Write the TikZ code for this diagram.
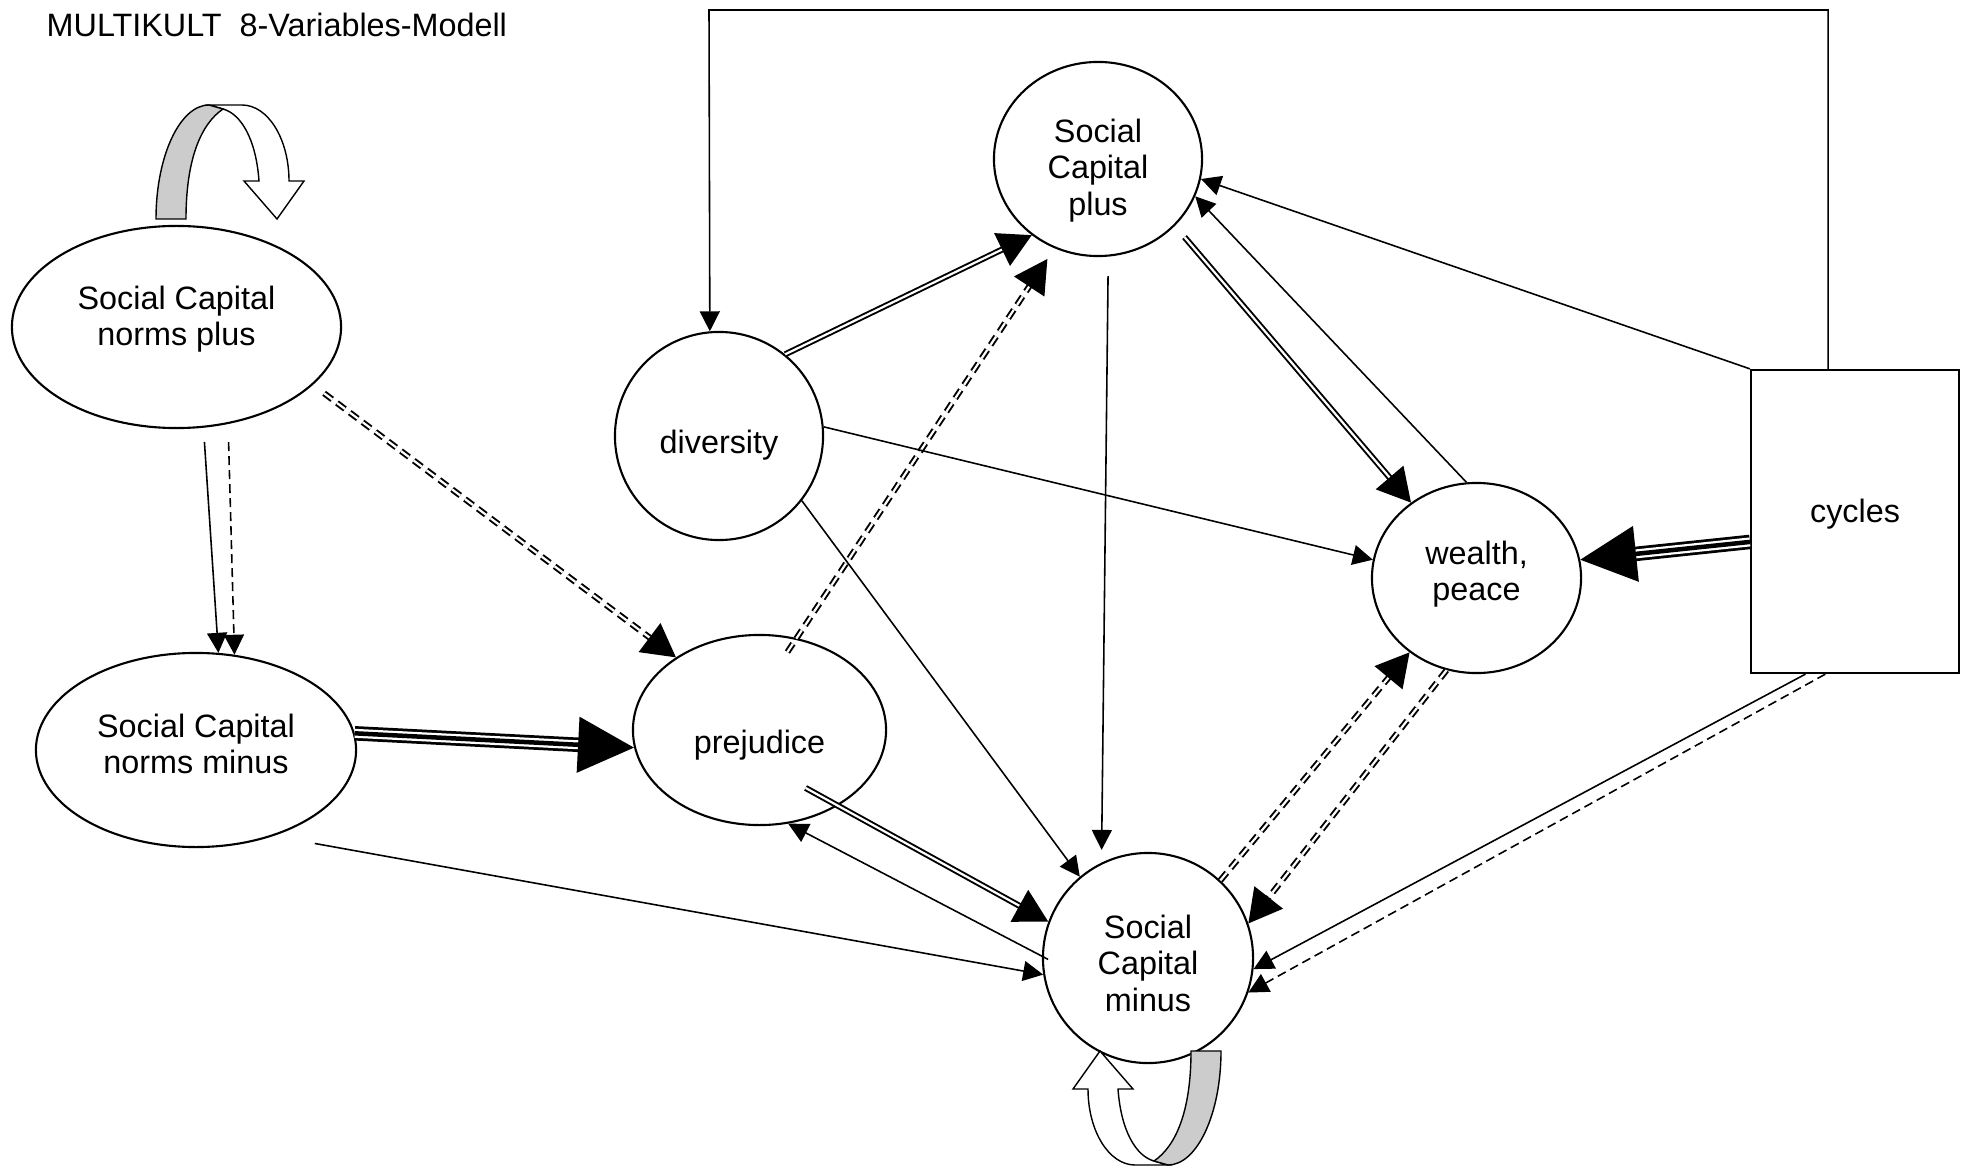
\documentclass[tikz,border=0pt]{standalone}
\usepackage{fontspec}
\setmainfont{Liberation Sans}
\usetikzlibrary{arrows.meta,shapes.geometric}

\begin{document}
\begin{tikzpicture}[x=0.01cm,y=-0.01cm,
    font=\fontsize{9.2}{10.3}\selectfont,
    varnode/.style ={ellipse, draw, line width=0.6pt, inner sep=0pt, align=center},
    cyclebox/.style ={rectangle, draw, line width=0.6pt, inner sep=0pt},
    thinarr/.style ={line width=0.45pt, -{Triangle[length=0.2cm,width=0.2cm]}},
    dashedarr/.style ={thinarr, dash pattern=on 0.09cm off 0.05cm},
    duoarr/.style ={double, double distance=0.022cm, line width=0.55pt, -{Triangle[length=0.33cm,width=0.36cm]}},
    dashedduo/.style ={duoarr, dash pattern=on 0.1cm off 0.06cm},
    trioarr/.style ={line width=0.045cm, -{Triangle[length=0.56cm,width=0.55cm]},
        preaction={draw, line width=0.145cm, -, shorten >=0.5cm},
        preaction={draw=white, line width=0.09cm, -, shorten >=0.5cm}},
    selfloop/.pic ={
        \draw[line width=0.4pt, fill=white] (53,-114) -- (86,-114) .. controls (112,-114) and (133,-80) .. (133,-38)
            -- (148,-38) -- (121,0) -- (88,-38) -- (103,-38) .. controls (100,-80) and (85,-105) .. (67,-110) -- cycle;
        \draw[line width=0.4pt, fill=gray!40] (0,0) .. controls (0,-63) and (24,-114) .. (53,-114) -- (67,-110)
            .. controls (45,-95) and (30,-60) .. (30,0) -- cycle;}]
   \useasboundingbox (0,0) rectangle (1961,1167);
   \node[anchor=base west, inner sep=0pt] (title) at (46,37) {MULTIKULT\ \ 8-Variables-Modell};
   \node[varnode, minimum width=3.29cm, minimum height=2.02cm] (normsplus) at (176.5,327) {Social Capital\\norms plus\rule[-6.2pt]{0pt}{0pt}};
   \node[varnode, minimum width=3.2cm, minimum height=1.94cm] (normsminus) at (196,750) {Social Capital\\norms minus\rule[-3.6pt]{0pt}{0pt}};
   \node[varnode, minimum width=2.53cm, minimum height=1.9cm] (prej) at (759.5,730) {\rule{0pt}{15.3pt}prejudice};
   \node[varnode, minimum width=2.08cm, minimum height=2.08cm] (div) at (719,436) {\rule{0pt}{11.7pt}diversity};
   \node[varnode, minimum width=2.08cm, minimum height=1.94cm] (scplus) at (1098,159) {\rule{0pt}{13.2pt}Social\\Capital\\plus};
   \node[varnode, minimum width=2.09cm, minimum height=1.9cm] (wealth) at (1476.5,578) {wealth,\\peace\rule[-4.1pt]{0pt}{0pt}};
   \node[varnode, minimum width=2.1cm, minimum height=2.1cm] (scminus) at (1148,958) {\rule{0pt}{9.7pt}Social\\Capital\\minus};
   \node[cyclebox, minimum width=2.08cm, minimum height=3.03cm] (cycles) at (1855,521.5) {cycles\rule[-6.2pt]{0pt}{0pt}};
   \coordinate (corner) at (709,10);
   \pic at (156,219) {selfloop};
   \pic[rotate=180] at (1221,1051) {selfloop};
   \draw[thinarr] (cycles.100.5) |- (corner) -- (div.95.5);
   \draw[thinarr] (cycles.north west) to (scplus.-11.4);
   \draw[thinarr] (wealth.96.9) to (scplus.-21.3);
   \draw[duoarr, shorten <=0.148cm] (scplus.-41.5) to (wealth.131.3);
   \draw[duoarr] (div.51.8) to (scplus.229.3);
   \draw[dashedduo, shorten <=-0.167cm, shorten >=0.128cm] (prej.68) to (scplus.244);
   \draw[thinarr] (div.5) to (wealth.170);
   \draw[thinarr] (div.-38.2) to (scminus.130.8);
   \draw[thinarr, shorten <=0.195cm, shorten >=0.127cm] (scplus.-84) to (scminus.116);
   \draw[trioarr] (cycles.191.2) to (wealth.10.7);
   \draw[dashedduo] (wealth.252.6) to (scminus.19.8);
   \draw[dashedduo] (scminus.47.2) to (wealth.228.3);
   \draw[thinarr] (cycles.252.8) to (scminus.-6.8);
   \draw[dashedarr] (cycles.259.2) to (scminus.-19.9);
   \draw[thinarr, shorten <=0.142cm] (normsplus.-75.6) to (normsminus.77.8);
   \draw[dashedarr, shorten <=0.18cm] (normsplus.-62.1) to (normsminus.68.1);
   \draw[dashedduo, shorten <=0.14cm] (normsplus.-23.1) to (prej.139.3);
   \draw[trioarr] (normsminus.6) to (prej.188.1);
   \draw[duoarr, shorten <=-0.37cm] (prej.-44.2) to (scminus.160.3);
   \draw[thinarr, shorten <=-0.07cm] (scminus.179.4) to (prej.-73.7);
   \draw[thinarr, shorten <=0.42cm] (normsminus.-48.9) to (scminus.189.7);
 \end{tikzpicture}
\end{document}
